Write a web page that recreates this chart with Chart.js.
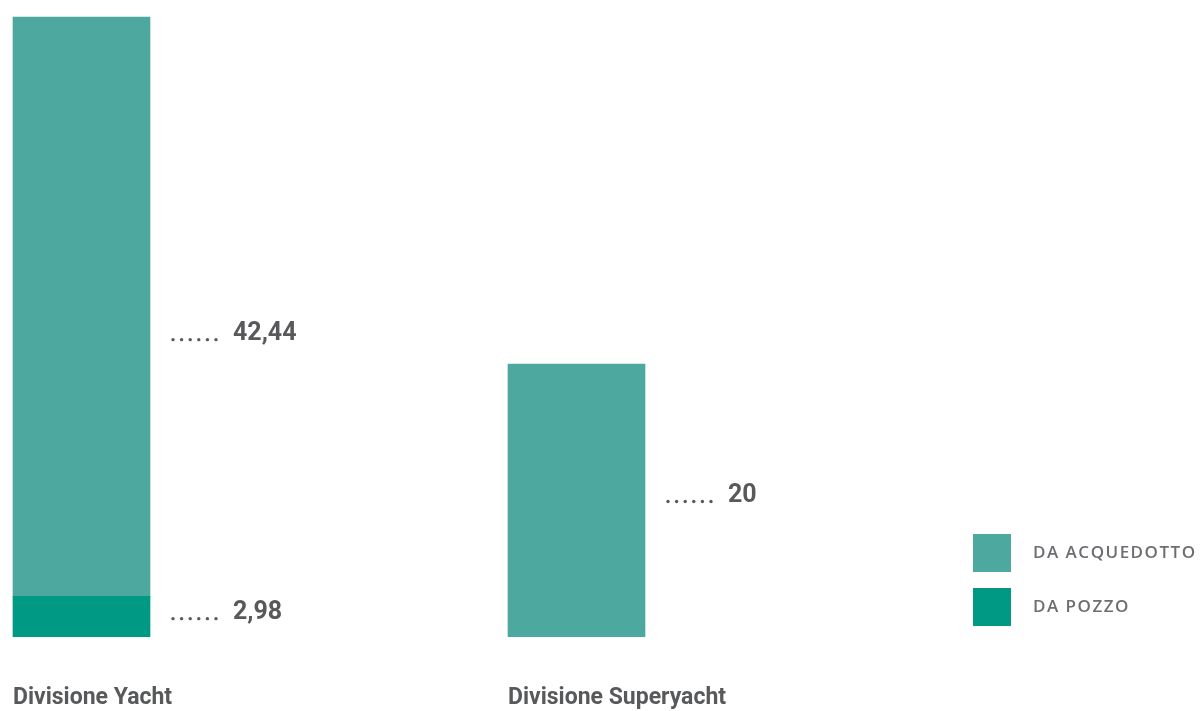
<!DOCTYPE html>
<html>
<head>
<meta charset="utf-8">
<script src="https://cdn.jsdelivr.net/npm/chart.js@4"></script>
<style>
  html, body { margin: 0; padding: 0; background: #fff; }
  #box { width: 1203px; height: 711px; position: relative; }
</style>
</head>
<body>
<div id="box"><canvas id="grafico"></canvas></div>
<script>
// datos del gráfico
const divisioni = ['Divisione Yacht', 'Divisione Superyacht'];
const daPozzo = [2.98, 0];
const daAcquedotto = [42.44, 20];
const etichette = [['2,98', null], ['42,44', '20']];
const legenda = ['DA ACQUEDOTTO', 'DA POZZO'];

const coloreAcquedotto = '#4da8a0';
const colorePozzo = '#009983';
const grigio = '#58595b';

// etichette a destra di ogni barra, con i puntini
const etichettePlugin = {
  id: 'etichette',
  afterDatasetsDraw(chart) {
    const ctx = chart.ctx;
    ctx.save();
    ctx.fillStyle = grigio;
    ctx.textBaseline = 'middle';
    const spostamenti = [[-5, null], [26, -6]];
    chart.data.datasets.forEach((ds, d) => {
      const meta = chart.getDatasetMeta(d);
      meta.data.forEach((bar, i) => {
        const testo = etichette[d][i];
        if (!testo) return;
        const destra = bar.x + bar.width / 2;
        const y = (bar.y + bar.base) / 2 + spostamenti[d][i];
        // sei puntini
        for (let k = 0; k < 6; k++) {
          ctx.beginPath();
          ctx.arc(destra + 23 + k * 8.6, y + 7, 1.7, 0, Math.PI * 2);
          ctx.fill();
        }
        ctx.font = 'bold 25px Roboto';
        ctx.textAlign = 'left';
        ctx.fillText(testo, destra + 83, y + 1);
      });
    });
    // nomi delle divisioni sotto le barre
    const meta = chart.getDatasetMeta(1);
    ctx.font = 'bold 23px Roboto';
    ctx.textAlign = 'left';
    meta.data.forEach((bar, i) => {
      ctx.fillText(divisioni[i], bar.x - bar.width / 2, chart.chartArea.bottom + 61);
    });
    // legenda
    const colori = [coloreAcquedotto, colorePozzo];
    ctx.font = '600 17px "Open Sans"';
    ctx.letterSpacing = '1.5px';
    legenda.forEach((l, i) => {
      const y = 534 + i * 54;
      ctx.fillStyle = colori[i];
      ctx.fillRect(973, y, 38, 38);
      ctx.fillStyle = '#6d6e71';
      ctx.fillText(l, 1033, y + 19);
    });
    ctx.restore();
  }
};

const contenedor = document.getElementById('grafico');
const grafico = new Chart(contenedor, {
  type: 'bar',
  data: {
    datasets: [{
      label: 'Da pozzo',
      data: daPozzo.map((v, i) => ({ x: i, y: v })).filter(p => p.y > 0),
      backgroundColor: colorePozzo,
      borderWidth: 0,
      barThickness: 137
    }, {
      label: 'Da acquedotto',
      data: daAcquedotto.map((v, i) => ({ x: i, y: v })),
      backgroundColor: coloreAcquedotto,
      borderWidth: 0,
      barThickness: 137
    }]
  },
  options: {
    responsive: true,
    maintainAspectRatio: false,
    animation: false,
    layout: { padding: { left: 0, right: 0, top: 0, bottom: 74 } },
    plugins: { legend: { display: false }, tooltip: { enabled: false } },
    scales: {
      x: {
        type: 'linear',
        stacked: true,
        display: false,
        offset: false,
        min: -81.5 / 495,
        max: -81.5 / 495 + 1203 / 495
      },
      y: {
        stacked: true,
        display: false,
        beginAtZero: true,
        min: 0,
        max: 46.667
      }
    }
  },
  plugins: [etichettePlugin]
});
</script>
</body>
</html>
